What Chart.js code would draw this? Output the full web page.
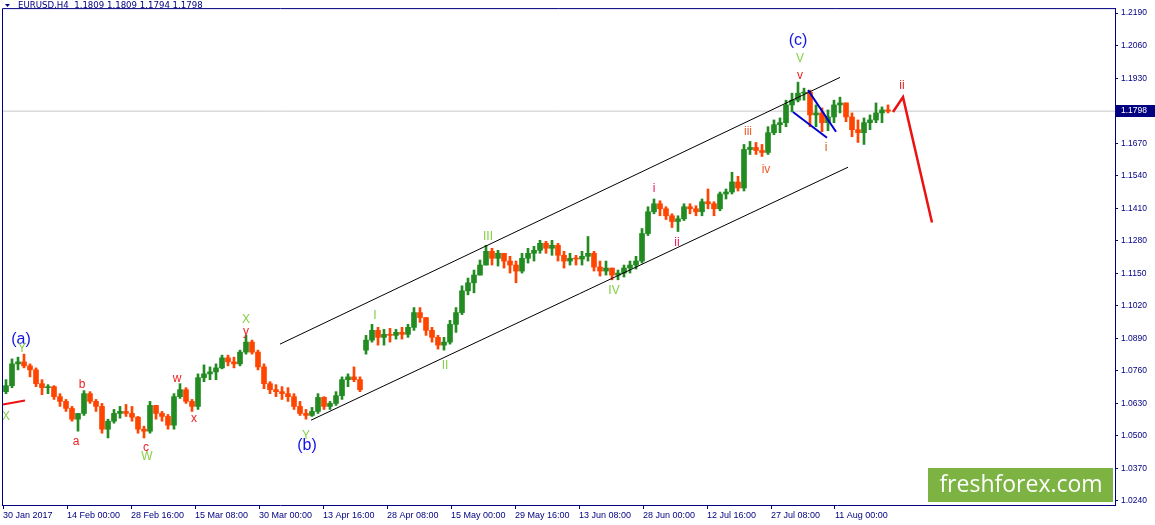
<!DOCTYPE html>
<html>
<head>
<meta charset="utf-8">
<title>EURUSD,H4</title>
<script src="https://cdn.jsdelivr.net/npm/chart.js@4.4.1/dist/chart.umd.min.js"></script>
<style>
  html, body { margin: 0; padding: 0; background: #fff; }
  canvas { display: block; }
</style>
</head>
<body>
<canvas id="chart" width="1155" height="525"></canvas>
<script>
// EURUSD H4, 30 Jan 2017 - 18 Aug 2017
// one candle = one trading day = 6 H4 bars, x axis counts H4 bars
const barsPerCandle = 6;

const opens = [
  1.0677, 1.0701, 1.0788, 1.0796, 1.0780, 1.0764, 1.0709, 1.0693, 1.0697, 1.0657,
  1.0638, 1.0610, 1.0567, 1.0590, 1.0669, 1.0638, 1.0618, 1.0527, 1.0559, 1.0590,
  1.0598, 1.0590, 1.0575, 1.0527, 1.0519, 1.0622, 1.0590, 1.0578, 1.0543, 1.0657,
  1.0685, 1.0638, 1.0618, 1.0733, 1.0748, 1.0756, 1.0772, 1.0812, 1.0796, 1.0788,
  1.0835, 1.0875, 1.0835, 1.0776, 1.0709, 1.0685, 1.0677, 1.0669, 1.0657, 1.0618,
  1.0590, 1.0582, 1.0598, 1.0654, 1.0618, 1.0630, 1.0661, 1.0725, 1.0736, 1.0725,
  1.0843, 1.0883, 1.0922, 1.0894, 1.0906, 1.0902, 1.0914, 1.0906, 1.0934, 1.0993,
  1.0973, 1.0922, 1.0894, 1.0863, 1.0875, 1.0946, 1.0993, 1.1080, 1.1112, 1.1143,
  1.1183, 1.1238, 1.1210, 1.1230, 1.1199, 1.1183, 1.1159, 1.1210, 1.1230, 1.1242,
  1.1270, 1.1250, 1.1262, 1.1222, 1.1199, 1.1210, 1.1207, 1.1218, 1.1230, 1.1175,
  1.1159, 1.1171, 1.1143, 1.1151, 1.1171, 1.1183, 1.1199, 1.1309, 1.1396, 1.1428,
  1.1408, 1.1380, 1.1357, 1.1368, 1.1416, 1.1408, 1.1396, 1.1436, 1.1428, 1.1408,
  1.1467, 1.1475, 1.1515, 1.1491, 1.1645, 1.1653, 1.1641, 1.1633, 1.1712, 1.1744,
  1.1752, 1.1823, 1.1842, 1.1870, 1.1874, 1.1783, 1.1791, 1.1752, 1.1775, 1.1823,
  1.1831, 1.1775, 1.1724, 1.1712, 1.1752, 1.1763, 1.1791, 1.1803
];
const highs = [
  1.0725, 1.0808, 1.0815, 1.0827, 1.0788, 1.0772, 1.0725, 1.0705, 1.0701, 1.0669,
  1.0646, 1.0618, 1.0590, 1.0681, 1.0677, 1.0646, 1.0630, 1.0567, 1.0606, 1.0618,
  1.0626, 1.0618, 1.0578, 1.0539, 1.0638, 1.0622, 1.0598, 1.0586, 1.0669, 1.0709,
  1.0693, 1.0646, 1.0748, 1.0784, 1.0776, 1.0788, 1.0823, 1.0823, 1.0815, 1.0843,
  1.0902, 1.0883, 1.0843, 1.0788, 1.0717, 1.0705, 1.0697, 1.0693, 1.0669, 1.0638,
  1.0606, 1.0614, 1.0669, 1.0657, 1.0638, 1.0677, 1.0736, 1.0748, 1.0776, 1.0736,
  1.0902, 1.0946, 1.0934, 1.0926, 1.0930, 1.0926, 1.0934, 1.0946, 1.1013, 1.1013,
  1.0973, 1.0934, 1.0902, 1.0894, 1.0962, 1.1013, 1.1100, 1.1131, 1.1163, 1.1203,
  1.1262, 1.1250, 1.1242, 1.1230, 1.1218, 1.1199, 1.1230, 1.1250, 1.1258, 1.1282,
  1.1278, 1.1282, 1.1270, 1.1238, 1.1230, 1.1222, 1.1238, 1.1297, 1.1238, 1.1199,
  1.1199, 1.1171, 1.1163, 1.1183, 1.1199, 1.1218, 1.1329, 1.1416, 1.1447, 1.1440,
  1.1416, 1.1388, 1.1380, 1.1428, 1.1428, 1.1420, 1.1447, 1.1487, 1.1436, 1.1475,
  1.1487, 1.1554, 1.1538, 1.1665, 1.1677, 1.1673, 1.1665, 1.1736, 1.1763, 1.1771,
  1.1842, 1.1870, 1.1914, 1.1890, 1.1882, 1.1823, 1.1811, 1.1803, 1.1842, 1.1854,
  1.1831, 1.1791, 1.1763, 1.1771, 1.1783, 1.1831, 1.1815, 1.1823
];
const lows = [
  1.0669, 1.0693, 1.0764, 1.0772, 1.0736, 1.0697, 1.0665, 1.0669, 1.0646, 1.0618,
  1.0598, 1.0559, 1.0519, 1.0582, 1.0630, 1.0598, 1.0511, 1.0492, 1.0551, 1.0571,
  1.0578, 1.0559, 1.0511, 1.0492, 1.0511, 1.0567, 1.0559, 1.0527, 1.0527, 1.0650,
  1.0630, 1.0598, 1.0606, 1.0717, 1.0725, 1.0725, 1.0768, 1.0780, 1.0772, 1.0780,
  1.0827, 1.0827, 1.0764, 1.0689, 1.0669, 1.0657, 1.0646, 1.0638, 1.0606, 1.0582,
  1.0567, 1.0578, 1.0590, 1.0606, 1.0606, 1.0622, 1.0646, 1.0697, 1.0717, 1.0677,
  1.0827, 1.0875, 1.0863, 1.0863, 1.0875, 1.0887, 1.0887, 1.0894, 1.0922, 1.0954,
  1.0902, 1.0875, 1.0847, 1.0843, 1.0867, 1.0914, 1.0985, 1.1064, 1.1072, 1.1143,
  1.1183, 1.1183, 1.1179, 1.1171, 1.1151, 1.1112, 1.1151, 1.1191, 1.1199, 1.1230,
  1.1230, 1.1222, 1.1199, 1.1171, 1.1183, 1.1183, 1.1183, 1.1199, 1.1159, 1.1139,
  1.1143, 1.1124, 1.1124, 1.1135, 1.1151, 1.1167, 1.1191, 1.1301, 1.1388, 1.1380,
  1.1365, 1.1333, 1.1317, 1.1361, 1.1388, 1.1380, 1.1380, 1.1408, 1.1380, 1.1400,
  1.1447, 1.1467, 1.1479, 1.1479, 1.1625, 1.1625, 1.1617, 1.1625, 1.1704, 1.1712,
  1.1736, 1.1795, 1.1835, 1.1842, 1.1736, 1.1736, 1.1716, 1.1720, 1.1752, 1.1791,
  1.1756, 1.1696, 1.1673, 1.1665, 1.1724, 1.1752, 1.1752, 1.1791
];
const closes = [
  1.0701, 1.0788, 1.0796, 1.0780, 1.0764, 1.0709, 1.0693, 1.0697, 1.0657, 1.0638,
  1.0610, 1.0567, 1.0590, 1.0669, 1.0638, 1.0618, 1.0527, 1.0559, 1.0590, 1.0598,
  1.0590, 1.0575, 1.0527, 1.0519, 1.0622, 1.0590, 1.0578, 1.0543, 1.0657, 1.0685,
  1.0638, 1.0618, 1.0733, 1.0748, 1.0756, 1.0772, 1.0812, 1.0796, 1.0788, 1.0835,
  1.0875, 1.0835, 1.0776, 1.0709, 1.0685, 1.0677, 1.0669, 1.0657, 1.0618, 1.0590,
  1.0582, 1.0598, 1.0654, 1.0618, 1.0630, 1.0661, 1.0725, 1.0736, 1.0725, 1.0685,
  1.0883, 1.0922, 1.0894, 1.0906, 1.0902, 1.0914, 1.0906, 1.0934, 1.0993, 1.0973,
  1.0922, 1.0894, 1.0863, 1.0875, 1.0946, 1.0993, 1.1080, 1.1112, 1.1143, 1.1183,
  1.1238, 1.1210, 1.1230, 1.1199, 1.1183, 1.1159, 1.1210, 1.1230, 1.1242, 1.1270,
  1.1250, 1.1262, 1.1222, 1.1199, 1.1210, 1.1207, 1.1218, 1.1230, 1.1175, 1.1159,
  1.1171, 1.1143, 1.1151, 1.1171, 1.1183, 1.1199, 1.1309, 1.1396, 1.1428, 1.1408,
  1.1380, 1.1357, 1.1368, 1.1416, 1.1408, 1.1396, 1.1436, 1.1428, 1.1408, 1.1467,
  1.1475, 1.1515, 1.1491, 1.1645, 1.1653, 1.1641, 1.1633, 1.1712, 1.1744, 1.1752,
  1.1823, 1.1842, 1.1870, 1.1874, 1.1783, 1.1791, 1.1752, 1.1775, 1.1823, 1.1831,
  1.1775, 1.1724, 1.1712, 1.1752, 1.1763, 1.1791, 1.1803, 1.1798
];

// last H4 bar, shown in the header
const lastBar = [1.1809, 1.1809, 1.1794, 1.1798];

// time axis (H4 bars from the first bar) and price axis
const tickBars = [0, 64, 128, 192, 256, 320, 384, 448, 512, 576, 640, 704, 768, 832];
const tickLabels = ['30 Jan 2017', '14 Feb 00:00', '28 Feb 16:00', '15 Mar 08:00', '30 Mar 00:00',
  '13 Apr 16:00', '28 Apr 08:00', '15 May 00:00', '29 May 16:00', '13 Jun 08:00',
  '28 Jun 00:00', '12 Jul 16:00', '27 Jul 08:00', '11 Aug 00:00'];
const priceTicks = [1.0240, 1.0370, 1.0500, 1.0630, 1.0760, 1.0890, 1.1020, 1.1150,
  1.1280, 1.1410, 1.1540, 1.1670, 1.1798, 1.1930, 1.2060, 1.2190];

// analyst drawing: channel, wedge, forecast (bar, price)
const channelTopBars = [277, 837];
const channelTopPrices = [1.0867, 1.1933];
const channelLowBars = [308, 845];
const channelLowPrices = [1.0563, 1.1574];
const wedgeTopBars = [805, 833];
const wedgeTopPrices = [1.1882, 1.1716];
const wedgeLowBars = [790, 824];
const wedgeLowPrices = [1.1795, 1.1692];
const forecastBars = [890, 900, 929];
const forecastPrices = [1.1795, 1.1854, 1.1353];
const earlyBars = [0, 22];
const earlyPrices = [1.0626, 1.0642];

// wave count labels
const waveText = ['(a)', 'Y', 'X', 'a', 'b', 'c', 'W', 'w', 'x', 'X', 'y', 'Y', '(b)',
  'I', 'II', 'III', 'IV', 'i', 'ii', 'iii', 'iv', '(c)', 'V', 'v', 'i', 'ii'];
const waveBars = [18, 19, 3, 73, 79, 143, 144, 174, 191, 243, 243, 303, 304,
  372, 442, 485, 611, 651, 674, 745, 763, 795, 797, 797, 823, 899];
const wavePrices = [1.0887, 1.0847, 1.0575, 1.0476, 1.0705, 1.0452, 1.0417, 1.0729, 1.0567,
  1.0966, 1.0918, 1.0500, 1.0460, 1.0981, 1.0780, 1.1297, 1.1080, 1.1487, 1.1274,
  1.1716, 1.1566, 1.2080, 1.2008, 1.1941, 1.1653, 1.1898];
const waveKinds = ['big', 'green', 'green', 'red', 'red', 'red', 'green', 'red', 'red', 'green',
  'red', 'green', 'big', 'green', 'green', 'green', 'green', 'pink', 'pink', 'orange',
  'orange', 'big', 'green', 'red', 'brown', 'red'];

const navy = '#000080';
const upColor = '#228b22';
const downColor = '#ff4500';

const waveStyle = {
  big: { color: '#1414e6', font: '16px "Liberation Sans"' },
  green: { color: '#86cf45', font: '12px "Liberation Sans"' },
  red: { color: '#ee2222', font: '12px "Liberation Sans"' },
  pink: { color: '#e8175d', font: '12px "Liberation Sans"' },
  orange: { color: '#f05a28', font: '12px "Liberation Sans"' },
  brown: { color: '#c86420', font: '12px "Liberation Sans"' }
};

function pts(xs, ys) {
  return xs.map((v, i) => ({ x: v, y: ys[i] }));
}

const candleX = closes.map((c, i) => i * barsPerCandle + barsPerCandle / 2);
const candleColor = c => closes[c.dataIndex] >= opens[c.dataIndex] ? upColor : downColor;
const lastPrice = closes[closes.length - 1];

function lineSet(data, color, width, order) {
  return {
    type: 'line', data: data, borderColor: color, borderWidth: width,
    pointRadius: 0, fill: false, tension: 0, order: order
  };
}

const overlay = {
  id: 'overlay',
  afterDatasetsDraw(chart) {
    const { ctx, scales: { x, y } } = chart;
    ctx.save();
    ctx.textAlign = 'center';
    ctx.textBaseline = 'middle';
    waveText.forEach((t, i) => {
      const s = waveStyle[waveKinds[i]];
      ctx.font = s.font;
      ctx.fillStyle = s.color;
      ctx.fillText(t, x.getPixelForValue(waveBars[i]), y.getPixelForValue(wavePrices[i]));
    });
    ctx.restore();
  },
  afterDraw(chart) {
    const { ctx, chartArea: a, scales: { y } } = chart;
    ctx.save();
    // frame left + top
    ctx.strokeStyle = navy;
    ctx.lineWidth = 1;
    ctx.beginPath();
    ctx.moveTo(a.left + 0.5, a.bottom);
    ctx.lineTo(a.left + 0.5, a.top + 0.5);
    ctx.lineTo(a.right, a.top + 0.5);
    ctx.stroke();

    // header
    ctx.fillStyle = navy;
    ctx.beginPath();
    ctx.moveTo(5, 4);
    ctx.lineTo(10, 4);
    ctx.lineTo(7.5, 7);
    ctx.closePath();
    ctx.fill();
    ctx.font = '8.6px "DejaVu Sans"';
    ctx.textAlign = 'left';
    ctx.textBaseline = 'middle';
    ctx.fillText('EURUSD,H4  ' + lastBar.map(v => v.toFixed(4)).join(' '), 18, 6);

    // current price tag on the axis
    const py = Math.round(y.getPixelForValue(lastPrice));
    ctx.fillStyle = navy;
    ctx.fillRect(a.right + 1, py - 6, 40, 12);
    ctx.fillStyle = '#ffffff';
    ctx.font = '8.5px "Liberation Sans"';
    ctx.fillText(lastPrice.toFixed(4), a.right + 6, py);

    // logo
    ctx.fillStyle = '#7cb342';
    ctx.fillRect(928, 468, 185, 34);
    ctx.fillStyle = '#ffffff';
    ctx.font = '23px "Open Sans"';
    ctx.textAlign = 'center';
    ctx.fillText('freshforex.com', 1021, 485);
    ctx.restore();
  }
};

const chart = new Chart(document.getElementById('chart'), {
  type: 'bar',
  data: {
    datasets: [
      lineSet(pts([-1, 1112], [lastPrice, lastPrice]), '#c8c8c8', 1, 9),
      {
        data: candleX.map((v, i) => ({ x: v, y: [lows[i], highs[i]] })),
        backgroundColor: candleColor, barThickness: 2, grouped: false, order: 6
      },
      {
        data: candleX.map((v, i) => ({ x: v, y: [opens[i], closes[i]] })),
        backgroundColor: candleColor, barThickness: 5, minBarLength: 1, grouped: false, order: 5
      },
      lineSet(pts(channelTopBars, channelTopPrices), '#000000', 1, 3),
      lineSet(pts(channelLowBars, channelLowPrices), '#000000', 1, 3),
      lineSet(pts(wedgeTopBars, wedgeTopPrices), '#0000cd', 2, 2),
      lineSet(pts(wedgeLowBars, wedgeLowPrices), '#0000cd', 2, 2),
      lineSet(pts(earlyBars, earlyPrices), '#ee1111', 2, 1),
      lineSet(pts(forecastBars, forecastPrices), '#ee1111', 2.5, 0)
    ]
  },
  options: {
    responsive: false,
    animation: false,
    devicePixelRatio: 1,
    layout: { padding: { left: 2, top: 2, right: 0, bottom: 0 } },
    plugins: { legend: { display: false }, tooltip: { enabled: false } },
    scales: {
      x: {
        type: 'linear', min: -1, max: 1112, offset: false,
        afterFit: s => { s.height = 20; },
        afterBuildTicks: s => { s.ticks = tickBars.map(v => ({ value: v })); },
        grid: { drawOnChartArea: false, drawTicks: true, tickLength: 4, color: navy, offset: false },
        border: { display: true, color: navy },
        ticks: {
          autoSkip: false, maxRotation: 0, align: 'start', padding: 1, color: navy,
          font: { family: 'Liberation Sans', size: 9 },
          callback: (v, i) => tickLabels[i]
        }
      },
      y: {
        position: 'right', min: 1.0224, max: 1.2210,
        afterFit: s => { s.width = 40; },
        afterBuildTicks: s => { s.ticks = priceTicks.filter(v => v !== lastPrice).map(v => ({ value: v })); },
        grid: { drawOnChartArea: false, drawTicks: true, tickLength: 3, color: navy },
        border: { display: true, color: navy },
        ticks: {
          padding: 3, color: navy,
          font: { family: 'Liberation Sans', size: 8.5 },
          callback: v => v.toFixed(4)
        }
      }
    }
  },
  plugins: [overlay]
});
</script>
</body>
</html>
